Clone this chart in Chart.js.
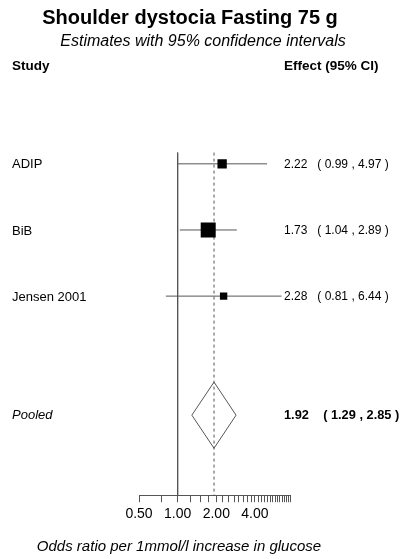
<!DOCTYPE html>
<html>
<head>
<meta charset="utf-8">
<script src="https://cdn.jsdelivr.net/npm/chart.js@4"></script>
<style>
  html, body { margin: 0; padding: 0; background: #fff; }
  #wrap { position: relative; width: 403px; height: 559px; }
</style>
</head>
<body>
<div id="wrap"><canvas id="forest"></canvas></div>
<script>
// study rows
const studies = ["ADIP", "BiB", "Jensen 2001"];
const estimates = [2.22, 1.73, 2.28];
const lowerCI = [0.99, 1.04, 0.81];
const upperCI = [4.97, 2.89, 6.44];
const boxSizes = [6.6, 10.6, 5.2]; // point radius ~ study weight
const rowPos = [1, 2, 3];

// pooled estimate
const pooledLabel = "Pooled";
const pooled = [1.92, 1.29, 2.85]; // est, lo, hi
const pooledRow = 4.8;

// axis
const tickValues = [];
for (let v = 0.5; v <= 7.5001; v += 0.25) tickValues.push(+v.toFixed(2));
const tickLabels = { 0.5: "0.50", 1: "1.00", 2: "2.00", 4: "4.00" };

const lineColor = "#555555";
const font = "'Liberation Sans', Arial, sans-serif";

const datasets = [];

// CI lines
studies.forEach((s, i) => {
    datasets.push({
        type: "line",
        data: [{ x: lowerCI[i], y: rowPos[i] }, { x: upperCI[i], y: rowPos[i] }],
        borderColor: lineColor,
        borderWidth: 1,
        pointRadius: 0,
        order: 2
    });
});

// boxes
datasets.push({
    type: "scatter",
    data: studies.map((s, i) => ({ x: estimates[i], y: rowPos[i] })),
    pointStyle: "rect",
    pointRadius: boxSizes,
    backgroundColor: "#000",
    borderColor: "#000",
    borderWidth: 0,
    order: 1
});

// no effect line and pooled dashed line
datasets.push({
    type: "line",
    data: [{ x: 1, y: 0.83 }, { x: 1, y: 6.01 }],
    borderColor: lineColor,
    borderWidth: 1,
    pointRadius: 0,
    order: 3
});
datasets.push({
    type: "line",
    data: [{ x: pooled[0], y: 0.83 }, { x: pooled[0], y: 6.01 }],
    borderColor: lineColor,
    borderWidth: 1,
    borderDash: [3, 3],
    pointRadius: 0,
    order: 3
});

// diamond
const h = 0.5;
datasets.push({
    type: "line",
    data: [
        { x: pooled[1], y: pooledRow },
        { x: pooled[0], y: pooledRow - h },
        { x: pooled[2], y: pooledRow },
        { x: pooled[0], y: pooledRow + h },
        { x: pooled[1], y: pooledRow }
    ],
    borderColor: lineColor,
    borderWidth: 1,
    pointRadius: 0,
    fill: false,
    tension: 0,
    order: 2
});

// labels and header text drawn around the plot
const textPlugin = {
    id: "forestText",
    afterDraw(chart) {
        const ctx = chart.ctx;
        const ys = chart.scales.y;
        ctx.save();
        ctx.fillStyle = "#000";
        ctx.textBaseline = "middle";

        ctx.textAlign = "center";
        ctx.font = "bold 20px " + font;
        ctx.fillText("Shoulder dystocia Fasting 75 g", 190, 18);
        ctx.font = "italic 16px " + font;
        ctx.fillText("Estimates with 95% confidence intervals", 203, 42);

        ctx.textAlign = "left";
        ctx.font = "bold 13.5px " + font;
        ctx.fillText("Study", 12, 66);
        ctx.fillText("Effect (95% CI)", 284, 66);

        studies.forEach((s, i) => {
            const y = ys.getPixelForValue(rowPos[i]);
            ctx.font = "13px " + font;
            ctx.fillText(s, 12, y + 1);
            ctx.font = "12px " + font;
            ctx.fillText(estimates[i].toFixed(2) + "   ( " + lowerCI[i].toFixed(2) + " , " + upperCI[i].toFixed(2) + " )", 284, y + 1);
        });

        const py = ys.getPixelForValue(pooledRow);
        ctx.font = "italic 13px " + font;
        ctx.fillText(pooledLabel, 12, py);
        ctx.font = "bold 12.8px " + font;
        ctx.fillText(pooled[0].toFixed(2) + "    ( " + pooled[1].toFixed(2) + " , " + pooled[2].toFixed(2) + " )", 284, py);

        ctx.textAlign = "center";
        ctx.font = "italic 15px " + font;
        ctx.fillText("Odds ratio per 1mmol/l increase in glucose", 179, 547);
        ctx.restore();
    }
};

new Chart(document.getElementById("forest"), {
    data: { datasets: datasets },
    plugins: [textPlugin],
    options: {
        responsive: true,
        maintainAspectRatio: false,
        animation: false,
        layout: { padding: { left: 139, right: 113, top: 97.7, bottom: 32 } },
        plugins: { legend: { display: false }, tooltip: { enabled: false } },
        scales: {
            x: {
                type: "logarithmic",
                min: 0.5,
                max: 7.5,
                afterBuildTicks: axis => { axis.ticks = tickValues.map(v => ({ value: v })); },
                grid: { drawOnChartArea: false, tickLength: 7, color: lineColor, tickColor: lineColor },
                border: { display: true, color: lineColor },
                ticks: {
                    autoSkip: false,
                    maxRotation: 0,
                    padding: 4,
                    color: "#000",
                    font: { size: 14, family: font },
                    callback: v => tickLabels[v] || ""
                }
            },
            y: {
                type: "linear",
                min: 0,
                max: 6.01,
                reverse: true,
                display: false
            }
        }
    }
});
</script>
</body>
</html>
